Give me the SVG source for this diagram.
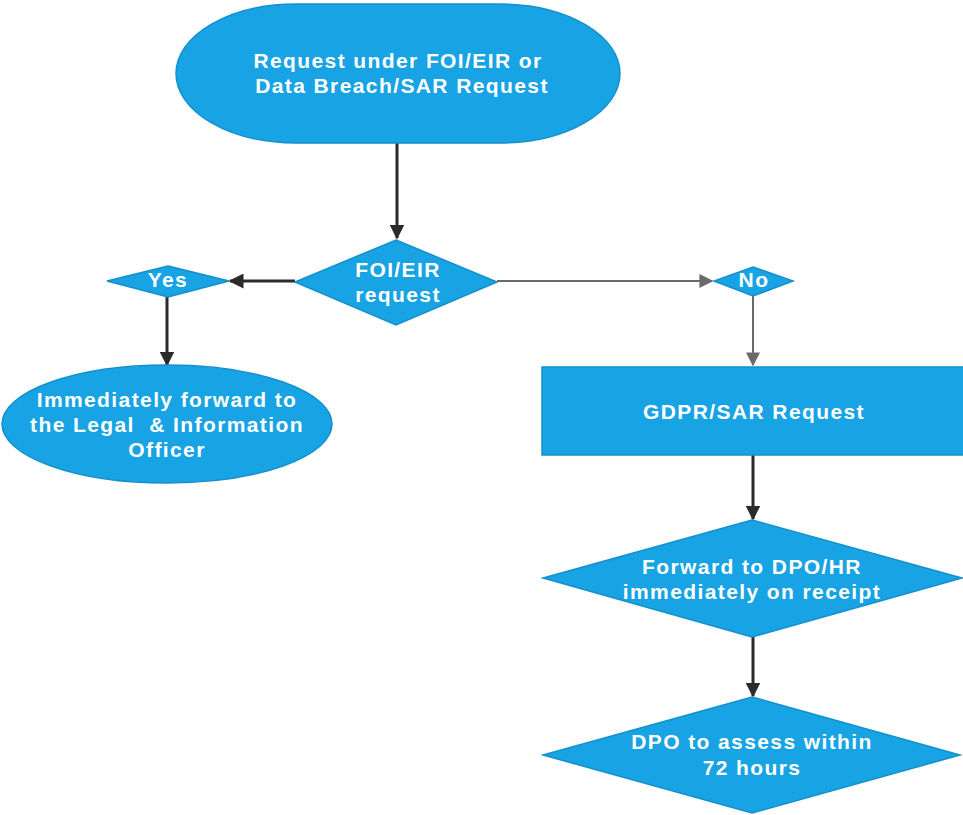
<svg xmlns="http://www.w3.org/2000/svg" width="963" height="815" viewBox="0 0 963 815">
<style>
.n{fill:#18a3e4;stroke:#1490cc;stroke-width:1.5}
.t{fill:#ffffff;font-family:"Liberation Sans",Arial,sans-serif;font-weight:bold;font-size:21px;letter-spacing:1.4px;text-anchor:middle;white-space:pre}
.c{fill:none;stroke:#2b2b2b;stroke-width:3}
.g{fill:none;stroke:#6a6a6a;stroke-width:2}
</style>
<defs>
<marker id="ah" viewBox="0 0 10 10" refX="9" refY="5" markerWidth="5" markerHeight="5" orient="auto" markerUnits="strokeWidth"><path d="M0,0 L10,5 L0,10 z" fill="#2b2b2b"/></marker>
<marker id="ag" viewBox="0 0 10 10" refX="9" refY="5" markerWidth="7" markerHeight="7" orient="auto" markerUnits="strokeWidth"><path d="M0,0 L10,5 L0,10 z" fill="#6a6a6a"/></marker>
</defs>
<g id="connectors">
<path class="c" d="M397,143 V238" marker-end="url(#ah)"/>
<path class="c" d="M295,281 H230" marker-end="url(#ah)"/>
<path class="g" d="M497,281 H712" marker-end="url(#ag)"/>
<path class="c" d="M167,297 V365" marker-end="url(#ah)"/>
<path class="g" d="M753,296 V365" marker-end="url(#ag)"/>
<path class="c" d="M753,455 V519" marker-end="url(#ah)"/>
<path class="c" d="M753,637 V696" marker-end="url(#ah)"/>
</g>
<g id="start">
<rect class="n" x="176" y="4" width="444" height="139" rx="120" ry="69.5"/>
<text class="t" x="398" y="68">Request under FOI/EIR or</text>
<text class="t" x="402" y="93">Data Breach/SAR Request</text>
</g>
<g id="foi">
<polygon class="n" points="396,240 497,282 396,325 295,282"/>
<text class="t" x="398" y="277">FOI/EIR</text>
<text class="t" x="398" y="302">request</text>
</g>
<g id="yes">
<polygon class="n" points="168,266 229,281 168,297 107,281"/>
<text class="t" x="168" y="287" font-size="17">Yes</text>
</g>
<g id="no">
<polygon class="n" points="753,267 793,281 753,296 714,281"/>
<text class="t" x="754" y="287" font-size="17">No</text>
</g>
<g id="legal">
<ellipse class="n" cx="167" cy="424" rx="165" ry="59"/>
<text class="t" x="167" y="407">Immediately forward to</text>
<text class="t" x="167" y="432">the Legal  &amp; Information</text>
<text class="t" x="167" y="457">Officer</text>
</g>
<g id="gdpr">
<rect class="n" x="542" y="367" width="425" height="88"/>
<text class="t" x="754" y="419">GDPR/SAR Request</text>
</g>
<g id="forward">
<polygon class="n" points="752,520 962,578 752,637 543,578"/>
<text class="t" x="752" y="574">Forward to DPO/HR</text>
<text class="t" x="752" y="599">immediately on receipt</text>
</g>
<g id="dpo">
<polygon class="n" points="752,697 960,755 752,813 543,755"/>
<text class="t" x="752" y="749">DPO to assess within</text>
<text class="t" x="752" y="775">72 hours</text>
</g>
</svg>
